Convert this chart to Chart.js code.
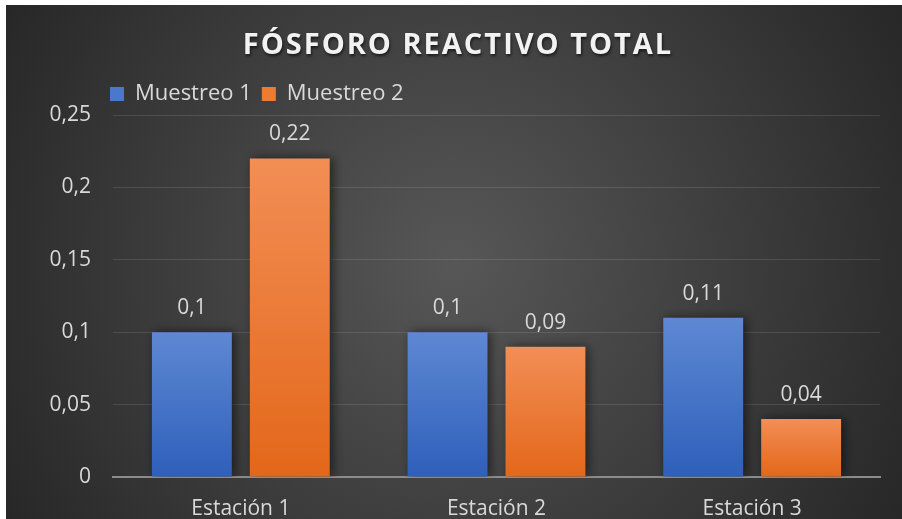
<!DOCTYPE html>
<html><head><meta charset="utf-8">
<script src="https://cdn.jsdelivr.net/npm/chart.js@4"></script>
<style>html,body{margin:0;padding:0;background:#fff;overflow:hidden}#wrap{width:902px;height:519px}</style>
</head><body><div id="wrap"><canvas id="c" width="902" height="519"></canvas></div>
<script>
const chartTitle = 'FÓSFORO REACTIVO TOTAL';
const categories = ['Estación 1', 'Estación 2', 'Estación 3'];
const seriesNames = ['Muestreo 1', 'Muestreo 2'];
const muestreo1 = [0.1, 0.1, 0.11];
const muestreo2 = [0.22, 0.09, 0.04];
const yTickLabels = ['0', '0,05', '0,1', '0,15', '0,2', '0,25'];

const FONT = '"Open Sans", "DejaVu Sans", sans-serif';
const TXT = '#d9d9d9';

function barGradient(top, bottom, solid) {
  return (ctx) => {
    const chart = ctx.chart;
    if (ctx.type !== 'data' || !chart.chartArea) return solid;
    const y = chart.scales.y;
    const t = y.getPixelForValue(ctx.raw);
    const b = y.getPixelForValue(0);
    if (!isFinite(t) || !isFinite(b) || t === b) return solid;
    const g = chart.ctx.createLinearGradient(0, t, 0, b);
    g.addColorStop(0, top);
    g.addColorStop(1, bottom);
    return g;
  };
}

const bgPlugin = {
  id: 'bg',
  beforeDraw(chart) {
    const { ctx, width, height } = chart;
    ctx.save();
    ctx.fillStyle = '#ffffff';
    ctx.fillRect(0, 0, width, height);
    const g = ctx.createRadialGradient(454, 262, 0, 454, 262, 530);
    g.addColorStop(0, '#575757');
    g.addColorStop(1, '#262626');
    ctx.fillStyle = g;
    ctx.fillRect(6, 5, width - 6, height - 5);
    ctx.restore();
  }
};

const shadowPlugin = {
  id: 'barShadow',
  beforeDatasetsDraw(chart) {
    const ctx = chart.ctx;
    ctx.save();
    ctx.shadowColor = 'rgba(0,0,0,0.55)';
    ctx.shadowBlur = 10;
    ctx.shadowOffsetX = 3;
    ctx.shadowOffsetY = 0;
  },
  afterDatasetsDraw(chart) {
    const ctx = chart.ctx;
    ctx.restore();
    ctx.save();
    ctx.font = '21px ' + FONT;
    ctx.fillStyle = TXT;
    ctx.textAlign = 'center';
    ctx.textBaseline = 'alphabetic';
    chart.data.datasets.forEach((ds, i) => {
      const meta = chart.getDatasetMeta(i);
      meta.data.forEach((el, j) => {
        const v = ds.data[j];
        ctx.fillText(String(v).replace('.', ','), el.x, el.y - 18);
      });
    });
    ctx.restore();
  }
};

const titlePlugin = {
  id: 'customTitle',
  afterDraw(chart) {
    const ctx = chart.ctx;
    ctx.save();
    ctx.font = 'bold 29px ' + FONT;
    try { ctx.letterSpacing = '2px'; } catch (e) {}
    ctx.fillStyle = '#f2f2f2';
    ctx.textAlign = 'center';
    ctx.textBaseline = 'alphabetic';
    ctx.shadowColor = 'rgba(0,0,0,0.6)';
    ctx.shadowOffsetX = 1;
    ctx.shadowOffsetY = 2;
    ctx.shadowBlur = 3;
    ctx.fillText(chartTitle, 458, 54);
    ctx.restore();
  }
};

const legendShift = {
  id: 'legendShift',
  afterLayout(chart) {
    const lg = chart.legend;
    if (!lg) return;
    const dx = 100 - lg.left;
    lg.left += dx;
    lg.right += dx;
  }
};

new Chart(document.getElementById('c'), {
  type: 'bar',
  data: {
    labels: categories,
    datasets: [
      {
        label: seriesNames[0],
        data: muestreo1,
        backgroundColor: barGradient('#5e88d3', '#2e5fba', '#4472c4'),
        borderWidth: 0,
        categoryPercentage: 0.766,
        barPercentage: 0.816
      },
      {
        label: seriesNames[1],
        data: muestreo2,
        backgroundColor: barGradient('#f28e55', '#e3671a', '#ed7d31'),
        borderWidth: 0,
        categoryPercentage: 0.766,
        barPercentage: 0.816
      }
    ]
  },
  options: {
    responsive: false,
    animation: false,
    devicePixelRatio: 1,
    layout: { padding: { left: 6, right: 22, top: 73, bottom: 0 } },
    plugins: {
      title: { display: false },
      tooltip: { enabled: false },
      legend: {
        display: true,
        position: 'top',
        align: 'start',
        labels: {
          boxWidth: 14,
          boxHeight: 14,
          padding: 10,
          color: TXT,
          font: { family: FONT, size: 22 },
          generateLabels(chart) {
            const solids = ['#4a78cc', '#ee7b32'];
            return chart.data.datasets.map((ds, i) => ({
              text: ds.label,
              fillStyle: solids[i],
              strokeStyle: solids[i],
              lineWidth: 0,
              fontColor: TXT,
              datasetIndex: i,
              hidden: false
            }));
          }
        }
      }
    },
    scales: {
      x: {
        grid: { display: false, drawTicks: false },
        border: { display: true, color: '#8c8c8c', width: 2 },
        ticks: { color: TXT, font: { family: FONT, size: 21 }, padding: 19 },
        afterFit(s) { s.height = 42; }
      },
      y: {
        min: 0,
        max: 0.25,
        grid: {
          drawTicks: false,
          color: (c) => (c.tick && c.tick.value === 0 ? 'rgba(0,0,0,0)' : 'rgba(255,255,255,0.11)'),
          lineWidth: 1
        },
        border: { display: false },
        ticks: {
          stepSize: 0.05,
          color: TXT,
          font: { family: FONT, size: 21 },
          padding: 22,
          callback: (v, i) => yTickLabels[i]
        },
        afterFit(s) { s.width = 107; }
      }
    }
  },
  plugins: [bgPlugin, shadowPlugin, titlePlugin, legendShift]
});
</script>
</body></html>
